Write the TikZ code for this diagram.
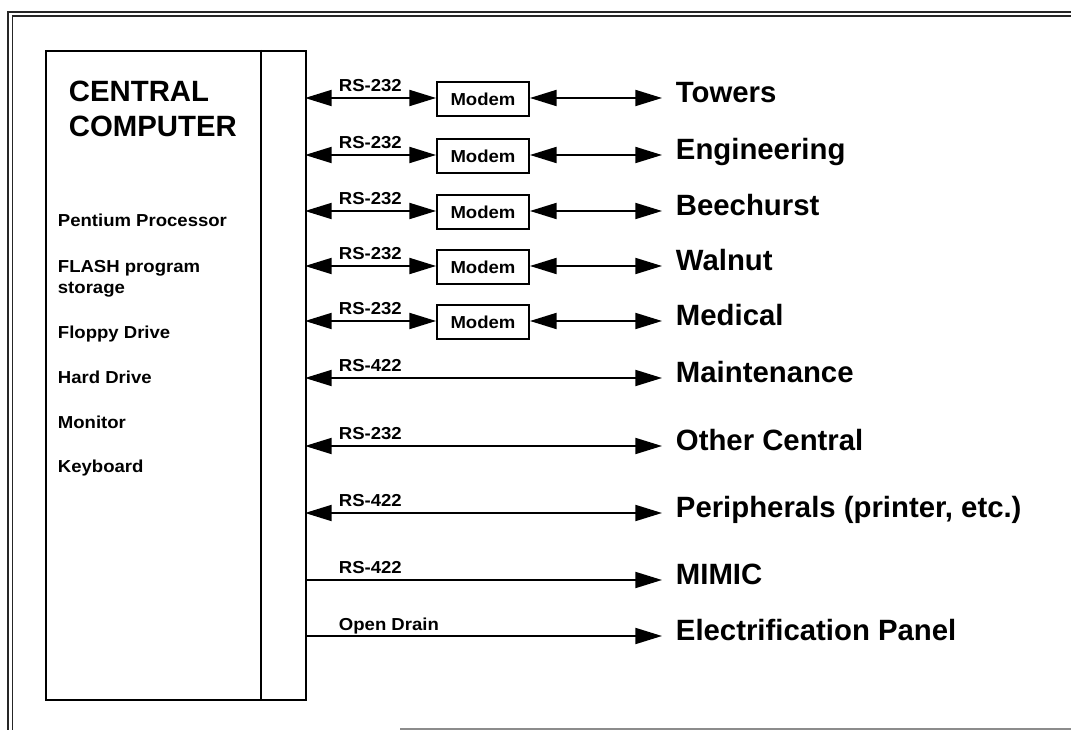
\documentclass[tikz,border=0pt]{standalone}
\usepackage{fontspec}
\setmainfont{Liberation Sans}
\newfontfamily\smallfont{Liberation Sans}[FakeStretch=1.07]
\usetikzlibrary{arrows.meta}
\begin{document}
\begin{tikzpicture}[x=0.75pt,y=-0.75pt,
  line width=1.4pt,
  tip/.style={-{Triangle[length=20pt,width=12pt]}},
  both/.style={{Triangle[length=20pt,width=12pt]}-{Triangle[length=20pt,width=12pt]}},
  modem/.style={draw,minimum width=69pt,minimum height=25.5pt,inner sep=0pt,font=\smallfont\bfseries\fontsize{13}{15}\selectfont},
  lbl/.style={anchor=base west,inner sep=0pt,font=\smallfont\bfseries\fontsize{13}{15}\selectfont},
  big/.style={anchor=base west,inner sep=0pt,font=\bfseries\fontsize{22}{26}\selectfont},
  frame/.style={line width=1.2pt,draw=black!85}]
\useasboundingbox (0,0) rectangle (1071,730);
% outer frame
\draw[frame] (8,730) -- (8,12) -- (1071,12);
\draw[frame] (12.5,730) -- (12.5,16) -- (1071,16);
\draw[frame,draw=black!45] (400,729) -- (1071,729);
% central computer box
\node[draw,anchor=north west,minimum width=195pt,minimum height=486.75pt,inner sep=0pt] (comp) at (45,50) {};
\draw ([xshift=-34.5pt]comp.north east) -- ([xshift=-34.5pt]comp.south east);
\node[big] (cc1) at (68,102) {CENTRAL};
\node[big] (cc2) at (68,137) {COMPUTER};
\node[lbl] (i1) at (57,227) {Pentium Processor};
\node[lbl] (i2) at (57,273) {FLASH program};
\node[lbl] (i3) at (57,294) {storage};
\node[lbl] (i4) at (57,339) {Floppy Drive};
\node[lbl] (i5) at (57,384) {Hard Drive};
\node[lbl] (i6) at (57,429) {Monitor};
\node[lbl] (i7) at (57,473) {Keyboard};
% rows with modems
\foreach \n/\y/\t in {1/98/Towers,2/155/Engineering,3/211/Beechurst,4/266/Walnut,5/321/Medical}{
  \coordinate (s\n) at (305,\y);
  \coordinate (e\n) at (662,\y);
  \node[modem] (m\n) at (483,\y+1) {Modem};
  \node[big] (t\n) at (675,\y+4.5) {\t};
  \node[lbl] (r\n) at (338,\y-6) {RS-232};
  \draw[both] (s\n) -- (s\n -| m\n.west);
  \draw[both] (s\n -| m\n.east) -- (e\n);
}
% direct rows
\foreach \n/\y/\t/\r in {6/378/Maintenance/RS-422,7/446/Other Central/RS-232,8/513/{Peripherals (printer, etc.)}/RS-422}{
  \coordinate (s\n) at (305,\y);
  \coordinate (e\n) at (662,\y);
  \node[big] (t\n) at (675,\y+4.5) {\t};
  \node[lbl] (r\n) at (338,\y-6) {\r};
  \draw[both] (s\n) -- (e\n);
}
\foreach \n/\y/\t/\r in {9/580/MIMIC/RS-422,10/636/Electrification Panel/Open Drain}{
  \coordinate (s\n) at (305,\y);
  \coordinate (e\n) at (662,\y);
  \node[big] (t\n) at (675,\y+4.5) {\t};
  \node[lbl] (r\n) at (338,\y-6) {\r};
  \draw[tip] (s\n) -- (e\n);
}
\end{tikzpicture}
\end{document}
